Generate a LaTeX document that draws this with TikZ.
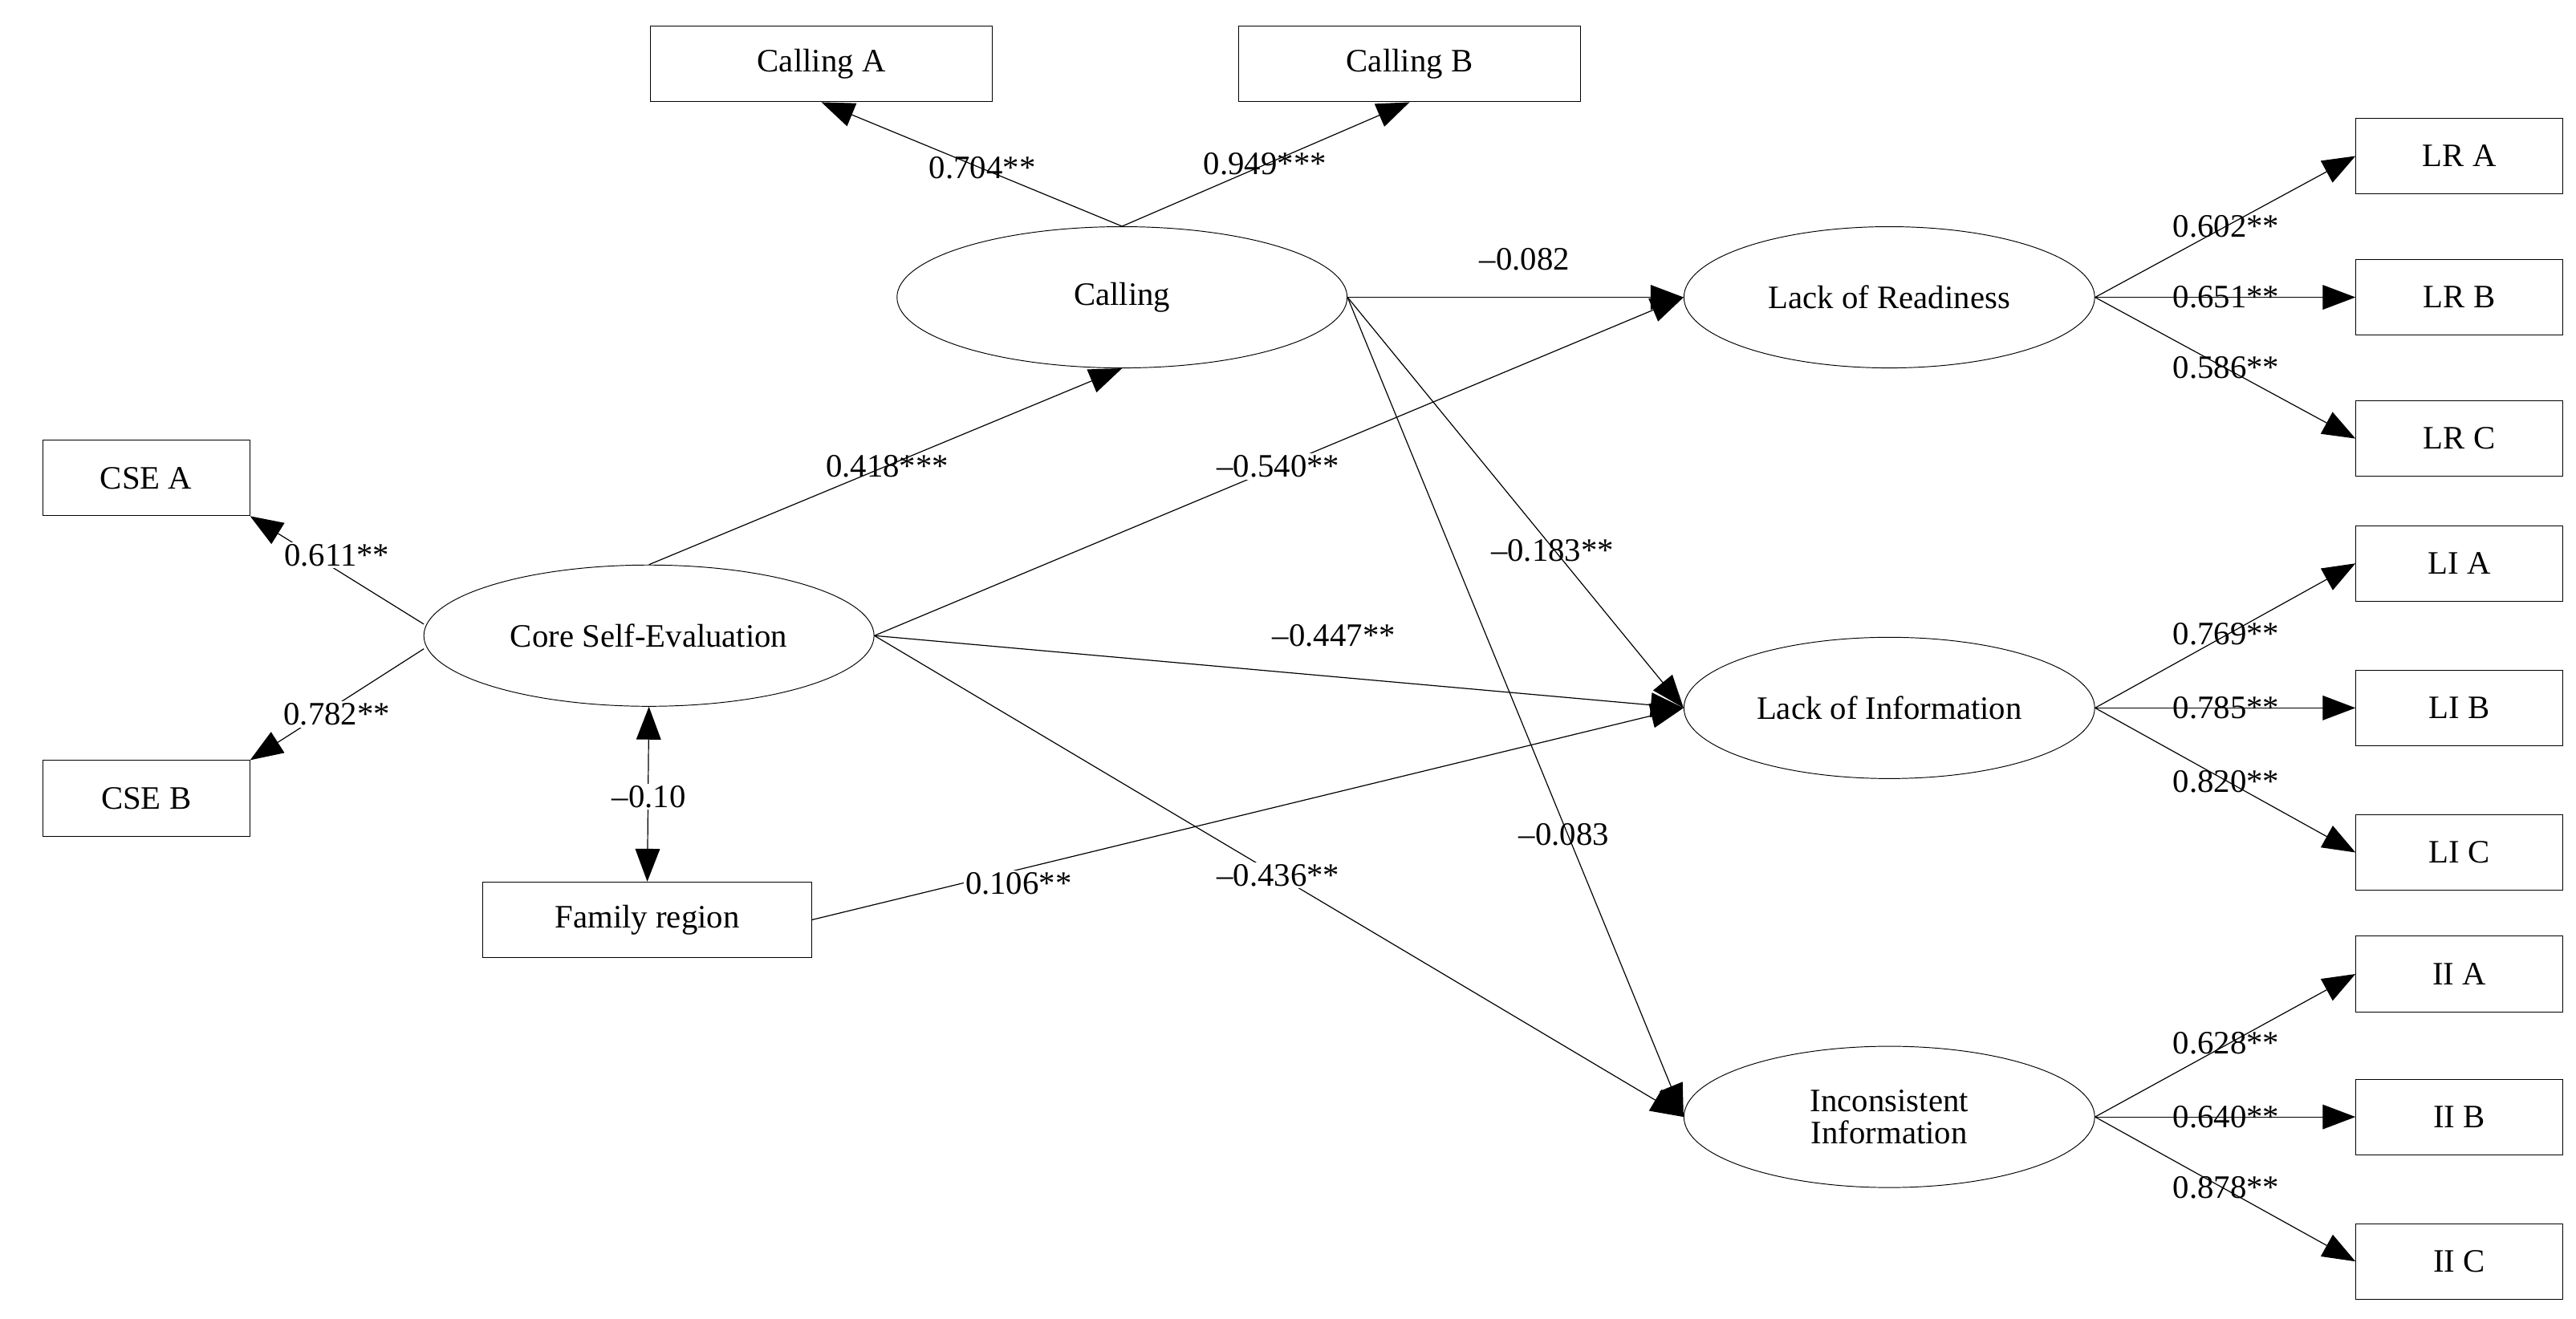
\documentclass[tikz,border=0pt]{standalone}
\usepackage{fontspec}
\setmainfont{Liberation Serif}
\usetikzlibrary{shapes.geometric,arrows.meta}
\begin{document}
\begin{tikzpicture}[x=0.03cm,y=-0.03cm,
  every node/.style={font=\fontsize{17}{20}\selectfont},
  box/.style={draw,rectangle,minimum width=6.24cm,minimum height=1.38cm,inner sep=0},
  sbox/.style={draw,rectangle,minimum width=3.78cm,minimum height=1.38cm,inner sep=0},
  lat/.style={draw,ellipse,minimum width=8.22cm,minimum height=2.58cm,inner sep=0},
  rlat/.style={draw,ellipse,minimum width=7.5cm,minimum height=2.58cm,inner sep=0,align=center},
  arr/.style={-{Triangle[length=0.6cm,width=0.45cm]},line width=0.5pt},
  barr/.style={{Triangle[length=0.6cm,width=0.45cm]}-{Triangle[length=0.6cm,width=0.45cm]},line width=0.5pt},
  lab/.style={inner sep=1pt}]
\useasboundingbox (0,0) rectangle (1568,803);
\node[box] (ca) at (500,39) {Calling A};
\node[box] (cb) at (858,39) {Calling B};
\node[lat] (cal) at (683,181) {Calling};
\node[lat] (cse) at (395,387) {Core Self-Evaluation};
\node[sbox] (csea) at (89,291) {CSE A};
\node[sbox] (cseb) at (89,486) {CSE B};
\node[box,minimum width=6cm] (fam) at (394,560) {Family region};
\node[rlat] (lr) at (1150,181) {Lack of Readiness};
\node[rlat] (li) at (1150,431) {Lack of Information};
\node[rlat] (ii) at (1150,680) {Inconsistent\\[-3pt]Information};
\node[sbox] (lra) at (1497,95) {LR A};
\node[sbox] (lrb) at (1497,181) {LR B};
\node[sbox] (lrc) at (1497,267) {LR C};
\node[sbox] (lia) at (1497,343) {LI A};
\node[sbox] (lib) at (1497,431) {LI B};
\node[sbox] (lic) at (1497,519) {LI C};
\node[sbox] (iia) at (1497,593) {II A};
\node[sbox] (iib) at (1497,680) {II B};
\node[sbox] (iic) at (1497,768) {II C};

\draw[arr] (cal.north) -- (ca.south);
\draw[arr] (cal.north) -- (cb.south);
\node[lab] at (598,102) {0.704**};
\node[lab] at (770,100) {0.949***};
\draw[arr] (cse.north) -- (cal.south);
\node[lab] at (540,284) {0.418***};
\draw[arr] (cal.east) -- (lr.west);
\node[lab] at (928,158) {--0.082};
\draw[arr] (cal.east) -- (li.west);
\node[lab] at (945,335) {--0.183**};
\draw[arr] (cal.east) -- (ii.west);
\node[lab] at (952,508) {--0.083};
\draw[arr] (cse.east) -- (lr.west);
\node[lab,fill=white] at (778,284) {--0.540**};
\draw[arr] (cse.east) -- (li.west);
\node[lab] at (812,387) {--0.447**};
\draw[arr] (cse.east) -- (ii.west);
\node[lab,fill=white] at (778,533) {--0.436**};
\draw[arr] (fam.east) -- (li.west);
\node[lab,fill=white] at (620,538) {0.106**};
\draw[barr] (cse.south) -- (fam.north);
\node[lab,fill=white] at (395,485) {--0.10};
\draw[arr] (258,380) -- (csea.south east);
\node[lab,fill=white] at (205,338) {0.611**};
\draw[arr] (258,395) -- (cseb.north east);
\node[lab,fill=white] at (205,435) {0.782**};

\foreach \l/\a/\b/\c/\y in {lr/lra/lrb/lrc/181, li/lia/lib/lic/431, ii/iia/iib/iic/680}{
  \draw[arr] (\l.east) -- (\a.west);
  \draw[arr] (\l.east) -- (\b.west);
  \draw[arr] (\l.east) -- (\c.west);
}
\node[lab] at (1355,138) {0.602**};
\node[lab] at (1355,181) {0.651**};
\node[lab] at (1355,224) {0.586**};
\node[lab] at (1355,386) {0.769**};
\node[lab] at (1355,431) {0.785**};
\node[lab] at (1355,476) {0.820**};
\node[lab] at (1355,635) {0.628**};
\node[lab] at (1355,680) {0.640**};
\node[lab] at (1355,723) {0.878**};
\end{tikzpicture}
\end{document}
